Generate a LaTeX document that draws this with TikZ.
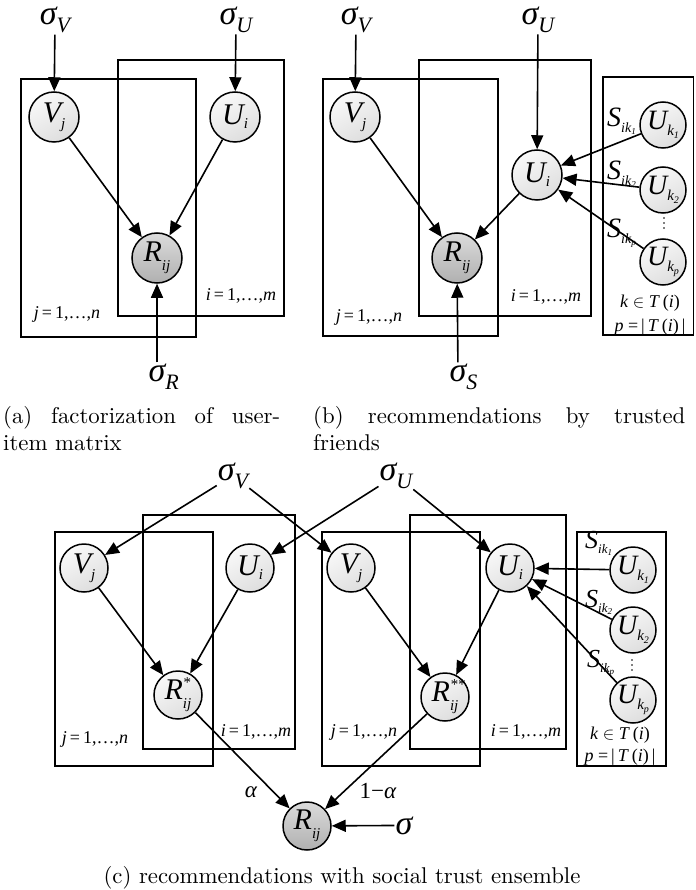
\documentclass[tikz,border=0pt]{standalone}
\usepackage{fontspec}
\newfontfamily\tms{Liberation Serif}
\usetikzlibrary{arrows.meta}
\newcommand\lo[3][15]{\raisebox{-#2}{\fontsize{#1}{#1}\selectfont #3}}
\begin{document}
\begin{tikzpicture}[x=1pt,y=-1pt,
  var/.style={circle, draw, line width=1.5pt, minimum size=50pt, inner sep=0pt,
    top color=gray!5, bottom color=gray!26, shading angle=30,
    font=\tms\itshape\fontsize{30}{30}\selectfont},
  obs/.style={var, top color=gray!28, bottom color=gray!62},
  cvar/.style={var, minimum size=48pt},
  kvar/.style={var, minimum size=46pt, font=\tms\itshape\fontsize{28}{28}\selectfont},
  arr/.style={line width=1.6pt, -{Triangle[length=14pt,width=12pt]}},
  plate/.style={draw, line width=1.6pt},
  hyp/.style={font=\tms\itshape\fontsize{34}{34}\selectfont, inner sep=1pt, anchor=base},
  idx/.style={font=\tms\fontsize{18}{18}\selectfont, inner sep=0pt},
  slab/.style={font=\tms\itshape\fontsize{28}{28}\selectfont, inner sep=0pt, anchor=base west},
  wlab/.style={font=\tms\fontsize{23}{23}\selectfont, inner sep=0pt},
  captxt/.style={inner sep=0pt, anchor=base west},
  vdot/.style={circle, fill, inner sep=0pt, minimum size=1.8pt}
]
\useasboundingbox (0,0) rectangle (695,890);

% ---------------- panel (a) ----------------
\draw[plate] (21,79) rectangle (196,337);
\draw[plate] (118,60) rectangle (284,316);
\node[hyp] (sVa) at (55,25) {σ\lo[22]{8pt}{V}};
\node[hyp] (sUa) at (236,25) {σ\lo[22]{8pt}{U}};
\node[var] (Vja) at (54,117) {V\lo{6pt}{j}};
\node[var] (Uia) at (235,117) {U\lo{4pt}{i}};
\node[obs] (Rija) at (157,258) {R\lo{9pt}{ij}};
\node[hyp] (sRa) at (157,381) {σ\rlap{\lo[22]{8pt}{R}}};
\draw[arr] (sVa) -- (Vja);
\draw[arr] (sUa) -- (Uia);
\draw[arr] (Vja) -- (Rija);
\draw[arr] (Uia) -- (Rija);
\draw[arr] (sRa) -- (Rija);
\node[idx] (ja) at (67,314) {\textit{j}\,=\,1,…,\textit{n}};
\node[idx] (ia) at (241,296) {\textit{i}\,=\,1,…,\textit{m}};

% ---------------- panel (b) ----------------
\draw[plate] (323,79) rectangle (498,336);
\draw[plate] (419,60) rectangle (591,316);
\draw[plate] (603,77) rectangle (693.5,335);
\node[hyp] (sVb) at (356,25) {σ\lo[22]{8pt}{V}};
\node[hyp] (sUb) at (538,25) {σ\lo[22]{8pt}{U}};
\node[var] (Vjb) at (355,117) {V\lo{6pt}{j}};
\node[var] (Uib) at (537,175) {U\lo{4pt}{i}};
\node[obs] (Rijb) at (457,258) {R\lo{9pt}{ij}};
\node[hyp] (sSb) at (458,381) {σ\rlap{\lo[22]{8pt}{S}}};
\node[kvar] (Uk1b) at (663,125) {U\lo{6pt}{k\lo[10]{3pt}{1}}};
\node[kvar] (Uk2b) at (663,190) {U\lo{6pt}{k\lo[10]{3pt}{2}}};
\node[kvar] (Ukpb) at (663,262) {U\lo{6pt}{k\lo[10]{3pt}{p}}};
\node[vdot] (db1) at (664,218) {};
\node[vdot] (db2) at (664,223) {};
\node[vdot] (db3) at (664,228) {};
\draw[arr] (sVb) -- (Vjb);
\draw[arr] (sUb) -- (Uib);
\draw[arr] (Vjb) -- (Rijb);
\draw[arr] (Uib) -- (Rijb);
\draw[arr] (sSb) -- (Rijb);
\draw[arr] (Uk1b) -- (Uib);
\draw[arr] (Uk2b) -- (Uib);
\draw[arr] (Ukpb) -- (Uib);
\node[slab] (S1b) at (607,127) {S\lo[14]{6pt}{ik\lo[9]{2pt}{1}}};
\node[slab] (S2b) at (607,180) {S\lo[14]{6pt}{ik\lo[9]{2pt}{2}}};
\node[slab] (Spb) at (607,238) {S\lo[14]{6pt}{ik\lo[9]{2pt}{p}}};
\node[idx] (jb) at (369,317) {\textit{j}\,=\,1,…,\textit{n}};
\node[idx] (ib) at (546,297) {\textit{i}\,=\,1,…,\textit{m}};
\node[idx] (kb) at (650,303) {\textit{k} $\in$ \textit{T}\,(\textit{i})};
\node[idx] (pb) at (650,327) {\textit{p} =\,|\,\textit{T}\,(\textit{i})\,|};

% ---------------- captions (a), (b) ----------------
\node[captxt] (capa1) at (3,423) {\scalebox{2.28}{\makebox[121.5pt][s]{(a) factorization of user-}}};
\node[captxt] (capa2) at (3,450) {\scalebox{2.28}{item matrix}};
\node[captxt] (capb1) at (313,423) {\scalebox{2.28}{\makebox[163.2pt][s]{(b) recommendations by trusted}}};
\node[captxt] (capb2) at (313,450) {\scalebox{2.28}{friends}};

% ---------------- panel (c) ----------------
\draw[plate] (55,532) rectangle (213,766);
\draw[plate] (143,515) rectangle (295,749);
\draw[plate] (322,532) rectangle (480,766);
\draw[plate] (410,515) rectangle (566,749);
\draw[plate] (577,532) rectangle (666,766);
\node[hyp] (sVc) at (233,480) {σ\lo[22]{8pt}{V}};
\node[hyp] (sUc) at (396,480) {σ\lo[22]{8pt}{U}};
\node[cvar] (Vjc) at (84,568) {V\lo{6pt}{j}};
\node[cvar] (Uic) at (250,568) {U\lo{4pt}{i}};
\node[cvar] (Rsc) at (178,695) {R\rlap{\raisebox{12pt}{\fontsize{15}{15}\selectfont *}}\lo{9pt}{ij}};
\node[cvar] (Vjd) at (351,568) {V\lo{6pt}{j}};
\node[cvar] (Uid) at (510,568) {U\lo{4pt}{i}};
\node[cvar] (Rsd) at (445,697) {R\rlap{\raisebox{12pt}{\fontsize{15}{15}\selectfont **}}\lo{9pt}{ij}};
\node[kvar] (Uk1c) at (633,570) {U\lo{6pt}{k\lo[10]{3pt}{1}}};
\node[kvar] (Uk2c) at (633,630) {U\lo{6pt}{k\lo[10]{3pt}{2}}};
\node[kvar] (Ukpc) at (633,700) {U\lo{6pt}{k\lo[10]{3pt}{p}}};
\node[vdot] (dc1) at (632,660) {};
\node[vdot] (dc2) at (632,665) {};
\node[vdot] (dc3) at (632,670) {};
\node[obs, minimum size=48pt] (Rijc) at (307,826) {R\lo{9pt}{ij}};
\node[hyp] (sc) at (404,834) {σ};
\draw[arr] (sVc) -- (Vjc);
\draw[arr] (sVc) -- (Vjd);
\draw[arr] (sUc) -- (Uic);
\draw[arr] (sUc) -- (Uid);
\draw[arr] (Vjc) -- (Rsc);
\draw[arr] (Uic) -- (Rsc);
\draw[arr] (Vjd) -- (Rsd);
\draw[arr] (Uid) -- (Rsd);
\draw[arr] (Uk1c) -- (Uid);
\draw[arr] (Uk2c) -- (Uid);
\draw[arr] (Ukpc) -- (Uid);
\draw[arr] (Rsc) -- (Rijc);
\draw[arr] (Rsd) -- (Rijc);
\draw[arr] (sc) -- (Rijc);
\node[slab, font=\tms\itshape\fontsize{26}{26}\selectfont] (S1c) at (585,548) {S\lo[13]{5pt}{ik\lo[9]{2pt}{1}}};
\node[slab, font=\tms\itshape\fontsize{26}{26}\selectfont] (S2c) at (585,607) {S\lo[13]{5pt}{ik\lo[9]{2pt}{2}}};
\node[slab, font=\tms\itshape\fontsize{26}{26}\selectfont] (Spc) at (587,667) {S\lo[13]{5pt}{ik\lo[9]{2pt}{p}}};
\node[idx] (jc) at (95,739) {\textit{j}\,=\,1,…,\textit{n}};
\node[idx] (ic) at (256,732) {\textit{i}\,=\,1,…,\textit{m}};
\node[idx] (jd) at (364,732) {\textit{j}\,=\,1,…,\textit{n}};
\node[idx] (id) at (526,732) {\textit{i}\,=\,1,…,\textit{m}};
\node[idx] (kc) at (620,735) {\textit{k} $\in$ \textit{T}\,(\textit{i})};
\node[idx] (pc) at (620,757) {\textit{p} =\,|\,\textit{T}\,(\textit{i})\,|};
\node[wlab] (al) at (251,792) {\textit{α}};
\node[wlab] (oma) at (378,791) {1−\textit{α}};
\node[captxt, anchor=base] (capc) at (342,883) {\scalebox{2.28}{(c) recommendations with social trust ensemble}};
\end{tikzpicture}
\end{document}
